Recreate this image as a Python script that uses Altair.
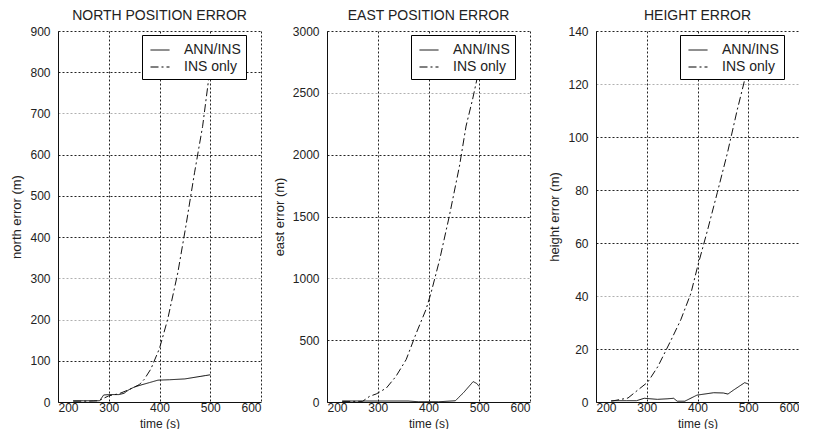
import altair as alt
import pandas as pd

SERIES = ["ANN/INS", "INS only"]

# North
north_ann_t = [230, 250, 270, 282, 290, 300, 320, 330, 340, 350, 360, 380, 397, 420, 450, 470, 480, 490, 500]
north_ann_v = [3, 3, 3, 3, 17, 18, 18, 21, 30, 36, 40, 47, 53, 54, 56, 60, 62, 64, 66]
north_ins_t = [230, 260, 280, 300, 320, 340, 360, 370, 383, 400, 416, 436, 452, 469, 485, 496, 500]
north_ins_v = [2, 2, 3, 15, 20, 30, 42, 55, 80, 130, 200, 313, 427, 556, 669, 775, 815]

# East
east_ann_t = [230, 300, 360, 380, 420, 453, 470, 488, 495, 500]
east_ann_v = [8, 8, 8, 2, 2, 10, 80, 165, 150, 125]
east_ins_t = [230, 270, 284, 297, 317, 336, 356, 376, 395, 405, 422, 441, 461, 474, 487, 497, 500]
east_ins_v = [5, 5, 46, 65, 113, 208, 343, 558, 747, 882, 1152, 1503, 1907, 2231, 2450, 2640, 2700]

# Height
height_ann_t = [230, 260, 280, 295, 321, 340, 353, 360, 375, 399, 432, 451, 460, 471, 493, 500]
height_ann_v = [0.5, 0.5, 0.5, 1.4, 1.0, 1.2, 1.4, 0.3, 0.3, 2.6, 3.5, 3.4, 3.0, 4.5, 7.3, 6.8]
height_ins_t = [230, 263, 283, 302, 322, 348, 367, 387, 400, 420, 439, 459, 478, 491, 500]
height_ins_v = [0.3, 1.5, 4.6, 7.5, 13.4, 23.4, 31, 41, 51, 65, 79, 94, 110, 120, 128]

X_TICKS = [200, 300, 400, 500, 600]


def make_df(ann_t, ann_v, ins_t, ins_v):
    rows = [{"t": t, "v": v, "series": SERIES[0]} for t, v in zip(ann_t, ann_v)]
    rows += [{"t": t, "v": v, "series": SERIES[1]} for t, v in zip(ins_t, ins_v)]
    return pd.DataFrame(rows)


def panel(df, title, ytitle, ymax, ystep, light):
    yticks = list(range(0, ymax + 1, ystep))
    test = " || ".join(f"datum.value === {v}" for v in light) if light else "false"
    return (
        alt.Chart(df)
        .mark_line(strokeWidth=1, color="#111")
        .encode(
            x=alt.X(
                "t:Q",
                scale=alt.Scale(domain=[200, 600], nice=False),
                axis=alt.Axis(values=X_TICKS, title="time (s)", format="d"),
            ),
            y=alt.Y(
                "v:Q",
                scale=alt.Scale(domain=[0, ymax], nice=False),
                axis=alt.Axis(
                    values=yticks,
                    title=ytitle,
                    format="d",
                    gridColor={"condition": {"test": test, "value": "#b0b0b0"}, "value": "#222"},
                ),
            ),
            strokeDash=alt.StrokeDash(
                "series:N",
                scale=alt.Scale(domain=SERIES, range=[[1, 0], [8, 3, 2, 3]]),
                legend=alt.Legend(
                    title=None,
                    orient="none",
                    legendX=84,
                    legendY=4,
                    fillColor="white",
                    strokeColor="black",
                    padding=5,
                    symbolType="stroke",
                    symbolSize=361,
                    symbolStrokeWidth=1,
                    symbolStrokeColor="black",
                    symbolOffset=3,
                    labelOffset=14,
                    labelFontSize=14,
                    labelFont="Liberation Sans",
                    labelColor="#222",
                    rowPadding=0,
                ),
            ),
            order="t:Q",
        )
        .properties(width=203, height=371, title=title)
    )


p1 = panel(make_df(north_ann_t, north_ann_v, north_ins_t, north_ins_v),
           "NORTH POSITION ERROR", "north error (m)", 900, 100, [700, 300, 200])
p2 = panel(make_df(east_ann_t, east_ann_v, east_ins_t, east_ins_v),
           "EAST POSITION ERROR", "east error (m)", 3000, 500, [2500, 1000])
p3 = panel(make_df(height_ann_t, height_ann_v, height_ins_t, height_ins_v),
           "HEIGHT ERROR", "height error (m)", 140, 20, [120, 40])

chart = (
    alt.hconcat(p1, p2, p3, spacing=66, bounds="flush")
    .resolve_scale(strokeDash="independent")
    .resolve_legend(strokeDash="independent")
    .properties(padding={"left": 2, "top": 1, "right": 0, "bottom": 0})
    .configure_view(strokeWidth=0)
    .configure_axis(
        labelFont="Liberation Sans",
        titleFont="Liberation Sans",
        labelFontSize=12,
        titleFontSize=12,
        titleFontWeight="normal",
        labelColor="#222",
        titleColor="#222",
        domainColor="#111",
        domainWidth=1,
        ticks=False,
        gridColor="#222",
        gridDash=[2, 2],
        gridWidth=1,
        gridOpacity=1,
    )
    .configure_axisY(labelPadding=8, titlePadding=6, titleFontSize=13)
    .configure_axisX(labelPadding=0, titlePadding=5)
    .configure_title(font="Liberation Sans", fontSize=14, fontWeight="normal", color="#222", offset=2)
)

chart.save("out.html", embed_options={"renderer": "svg", "actions": False})
